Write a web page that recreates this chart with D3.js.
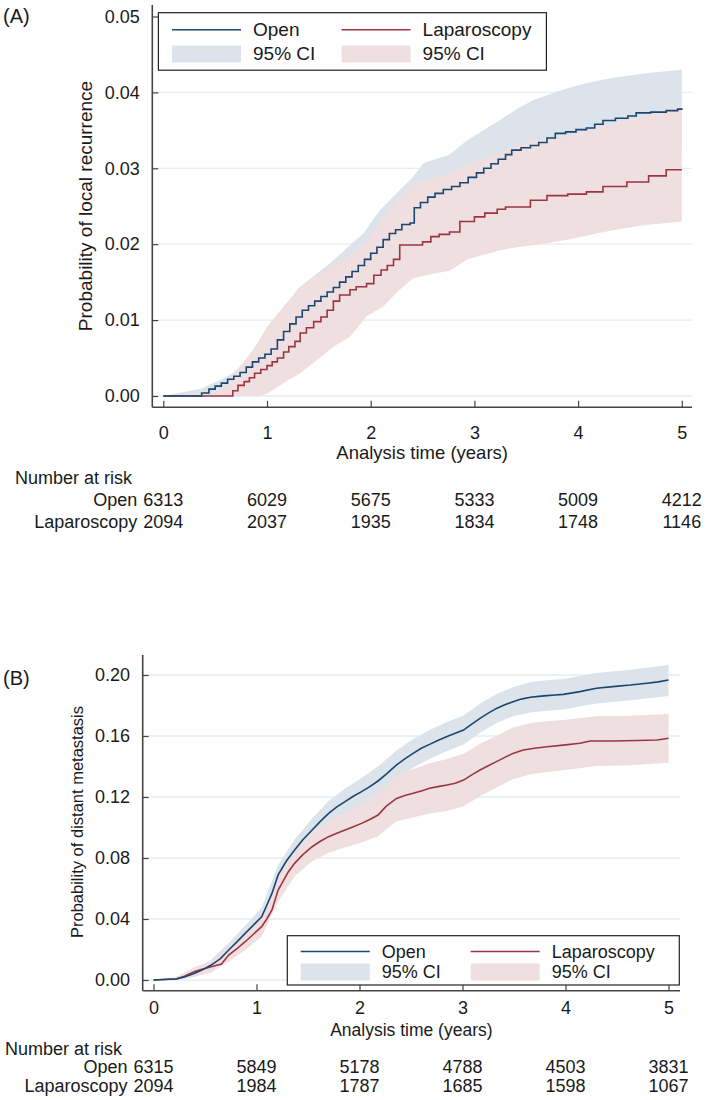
<!DOCTYPE html>
<html><head><meta charset="utf-8">
<script src="https://cdn.jsdelivr.net/npm/d3@7"></script>
<style>
body{margin:0;background:#fff}
svg{display:block}
text{font-family:"Liberation Sans",Arial,Helvetica,sans-serif;fill:#1a1a1a}
</style>
</head><body>
<script>
// ---------------- DATA ----------------
const years = [0, 1, 2, 3, 4, 5];
const seriesNames = ["Open", "Laparoscopy"];
const ciLabel = "95% CI";

// Panel A: local recurrence
const yTicksA = [0, 0.01, 0.02, 0.03, 0.04, 0.05];
const openA_t = [0,0.37,0.44,0.50,0.56,0.62,0.68,0.74,0.80,0.86,0.92,0.98,1.04,1.10,1.16,1.22,1.28,1.34,1.40,1.46,1.52,1.58,1.64,1.70,1.76,1.82,1.88,1.94,2.00,2.06,2.12,2.18,2.24,2.30,2.38,2.42,2.48,2.55,2.62,2.70,2.78,2.86,2.94,3.02,3.09,3.16,3.23,3.30,3.36,3.45,3.54,3.62,3.70,3.78,3.88,3.98,4.08,4.16,4.24,4.36,4.48,4.56,4.70,4.85,4.96,5.0];
const openA_v = [0,0.0004,0.0009,0.0013,0.0017,0.0022,0.0026,0.0031,0.0038,0.0045,0.0050,0.0055,0.0062,0.0074,0.0085,0.0095,0.0104,0.0113,0.0119,0.0125,0.0131,0.0137,0.0143,0.0150,0.0157,0.0164,0.0172,0.0180,0.0188,0.0196,0.0206,0.0214,0.0219,0.0226,0.0228,0.0248,0.0255,0.0262,0.0267,0.0272,0.0276,0.0281,0.0288,0.0294,0.0300,0.0306,0.0312,0.0318,0.0324,0.0327,0.0330,0.0334,0.0340,0.0346,0.0348,0.0351,0.0353,0.0358,0.0363,0.0366,0.0369,0.0373,0.0374,0.0376,0.0378,0.0379];
const openA_ci_t = [0,0.37,0.45,0.55,0.67,0.84,1.0,1.16,1.29,1.45,1.61,1.77,1.93,2.09,2.25,2.41,2.51,2.60,2.76,2.93,3.09,3.25,3.41,3.57,3.73,3.89,4.05,4.21,4.37,4.53,4.70,4.85,5.0];
const openA_hi = [0,0.0010,0.0015,0.0021,0.0030,0.0052,0.0078,0.0105,0.0140,0.0158,0.0175,0.0195,0.0214,0.0245,0.0267,0.0289,0.0307,0.0311,0.0318,0.0337,0.0350,0.0364,0.0378,0.0390,0.0398,0.0405,0.0411,0.0416,0.0420,0.0423,0.0426,0.0428,0.0430];
const openA_lo = [0,0,0.0003,0.0006,0.0012,0.0025,0.0036,0.0060,0.0072,0.0088,0.0105,0.0122,0.0142,0.0160,0.0178,0.0200,0.0206,0.0222,0.0230,0.0241,0.0254,0.0266,0.0275,0.0282,0.0290,0.0294,0.0297,0.0304,0.0310,0.0315,0.0318,0.0320,0.0322];
const lapA_t = [0,0.67,0.72,0.78,0.83,0.88,0.94,1.00,1.05,1.10,1.16,1.21,1.27,1.32,1.38,1.45,1.52,1.58,1.64,1.70,1.80,1.86,1.96,2.03,2.10,2.16,2.22,2.28,2.50,2.58,2.66,2.76,2.86,3.00,3.10,3.22,3.30,3.54,3.70,3.90,4.08,4.24,4.47,4.68,4.85,5.0];
const lapA_v = [0,0.0007,0.0014,0.0019,0.0024,0.0030,0.0035,0.0040,0.0045,0.0050,0.0058,0.0065,0.0072,0.0083,0.0090,0.0098,0.0104,0.0113,0.0125,0.0133,0.0140,0.0144,0.0148,0.0159,0.0166,0.0172,0.0180,0.0199,0.0203,0.0210,0.0213,0.0216,0.0230,0.0236,0.0241,0.0246,0.0249,0.0258,0.0264,0.0266,0.0269,0.0276,0.0282,0.0290,0.0298,0.0298];
const lapA_ci_t = [0,0.50,0.60,0.74,0.86,0.93,1.0,1.16,1.32,1.48,1.64,1.80,1.96,2.12,2.28,2.41,2.57,2.76,2.93,3.09,3.25,3.41,3.57,3.73,3.89,4.05,4.21,4.37,4.53,4.70,4.85,5.0];
const lapA_hi = [0,0.0006,0.0012,0.0039,0.0060,0.0075,0.0091,0.0118,0.0144,0.0160,0.0172,0.0186,0.0205,0.0235,0.0263,0.0280,0.0286,0.0293,0.0305,0.0313,0.0321,0.0330,0.0336,0.0340,0.0342,0.0348,0.0355,0.0360,0.0366,0.0372,0.0378,0.0383];
const lapA_lo = [0,0,0,0,0,0,0.0003,0.0017,0.0030,0.0047,0.0065,0.0078,0.0105,0.0118,0.0140,0.0155,0.0160,0.0165,0.0180,0.0186,0.0192,0.0196,0.0199,0.0202,0.0206,0.0210,0.0215,0.0219,0.0223,0.0226,0.0228,0.0230];
const riskA_open = [6313, 6029, 5675, 5333, 5009, 4212];
const riskA_lap = [2094, 2037, 1935, 1834, 1748, 1146];

// Panel B: distant metastasis
const yTicksB = [0, 0.04, 0.08, 0.12, 0.16, 0.20];
const openB_t = [0,0.10,0.22,0.30,0.40,0.48,0.56,0.65,0.73,0.81,0.89,0.97,1.05,1.10,1.15,1.21,1.29,1.37,1.45,1.54,1.62,1.70,1.78,1.86,1.94,2.02,2.10,2.18,2.26,2.36,2.44,2.52,2.60,2.68,2.76,2.85,2.93,3.01,3.09,3.17,3.25,3.33,3.41,3.49,3.57,3.66,3.74,3.82,3.90,3.98,4.14,4.30,4.46,4.63,4.79,4.90,5.0];
const openB_v = [0,0.0003,0.0007,0.0020,0.0044,0.0068,0.0098,0.0140,0.0197,0.0250,0.0306,0.0360,0.0415,0.0490,0.0568,0.0689,0.0780,0.0852,0.0920,0.0984,0.1040,0.1093,0.1135,0.1170,0.1205,0.1235,0.1268,0.1305,0.1350,0.1410,0.1450,0.1486,0.1520,0.1545,0.1570,0.1596,0.1618,0.1639,0.1678,0.1716,0.1750,0.1781,0.1805,0.1825,0.1842,0.1854,0.1860,0.1865,0.1869,0.1873,0.1891,0.1913,0.1924,0.1934,0.1946,0.1955,0.1967];
const ciB_t = [0,0.22,0.40,0.56,0.73,0.89,1.05,1.21,1.37,1.54,1.70,1.86,2.02,2.18,2.36,2.52,2.68,2.85,3.01,3.17,3.33,3.49,3.66,3.82,3.98,4.30,4.63,5.0];
const openB_lo = [0,0,0.0019,0.0063,0.0152,0.0256,0.0355,0.0624,0.0782,0.0909,0.1013,0.1085,0.1145,0.1210,0.1315,0.1391,0.1450,0.1501,0.1544,0.1621,0.1686,0.1730,0.1754,0.1765,0.1773,0.1813,0.1834,0.1862];
const openB_hi = [0,0.0017,0.0069,0.0133,0.0242,0.0356,0.0475,0.0754,0.0922,0.1059,0.1173,0.1255,0.1325,0.1400,0.1505,0.1581,0.1640,0.1691,0.1734,0.1811,0.1876,0.1920,0.1954,0.1965,0.1973,0.2013,0.2034,0.2065];
const lapB_t = [0,0.10,0.22,0.30,0.40,0.48,0.56,0.66,0.73,0.81,0.89,0.97,1.05,1.10,1.15,1.21,1.31,1.37,1.45,1.54,1.62,1.70,1.78,1.86,1.94,2.02,2.10,2.18,2.26,2.36,2.44,2.52,2.60,2.68,2.76,2.85,2.93,3.01,3.09,3.17,3.25,3.33,3.41,3.49,3.59,3.70,3.82,3.98,4.14,4.24,4.46,4.70,4.89,5.0];
const lapB_v = [0,0.0003,0.0007,0.0025,0.0055,0.0072,0.0087,0.0105,0.0164,0.0205,0.0251,0.0300,0.0350,0.0400,0.0459,0.0590,0.0710,0.0765,0.0822,0.0874,0.0910,0.0940,0.0962,0.0984,0.1005,0.1027,0.1052,0.1082,0.1140,0.1191,0.1210,0.1224,0.1240,0.1257,0.1268,0.1279,0.1290,0.1311,0.1345,0.1377,0.1405,0.1432,0.1460,0.1486,0.1508,0.1520,0.1530,0.1540,0.1552,0.1567,0.1567,0.1570,0.1574,0.1585];
const lapB_lo = [0,0,0.0025,0.0049,0.0119,0.0196,0.0285,0.0515,0.0680,0.0779,0.0835,0.0869,0.0902,0.0942,0.1041,0.1066,0.1092,0.1109,0.1139,0.1205,0.1262,0.1316,0.1350,0.1364,0.1375,0.1404,0.1408,0.1425];
const lapB_hi = [0,0.0019,0.0085,0.0125,0.0209,0.0306,0.0415,0.0665,0.0850,0.0969,0.1045,0.1099,0.1152,0.1222,0.1341,0.1382,0.1422,0.1449,0.1483,0.1549,0.1602,0.1656,0.1686,0.1696,0.1705,0.1730,0.1732,0.1745];
const riskB_open = [6315, 5849, 5178, 4788, 4503, 3831];
const riskB_lap = [2094, 1984, 1787, 1685, 1598, 1067];

// ---------------- STYLE ----------------
const COL = {open: "#1a476f", lap: "#9c3541", openCI: "#dce3eb", lapCI: "#efdfe0",
             grid: "#e6eef0", axis: "#444"};
const W = 709, H = 1100;

const svg = d3.select("body").append("svg").attr("width", W).attr("height", H);

function pts(t, v) { return t.map((d, i) => ({t: d, v: v[i]})); }
function band(t, lo, hi) { return t.map((d, i) => ({t: d, lo: lo[i], hi: hi[i]})); }

function drawPanel(p) {
  const g = svg.append("g");
  const x = d3.scaleLinear().domain([0, 5]).range([p.x0, p.x5]);
  const yMax = p.yTicks[p.yTicks.length - 1];
  const y = d3.scaleLinear().domain([0, yMax]).range([p.y0, p.y0 - yMax * p.ppu]);

  // gridlines
  g.append("g").selectAll("line").data(p.grid).join("line")
    .attr("x1", p.axisX).attr("x2", p.right)
    .attr("y1", d => y(d)).attr("y2", d => y(d))
    .attr("stroke", COL.grid).attr("stroke-width", 1.3);

  // CI bands
  const area = d3.area().curve(d3.curveLinear).x(d => x(d.t)).y0(d => y(d.lo)).y1(d => y(d.hi));
  g.append("path").datum(p.openBand).attr("d", area).attr("fill", COL.openCI);
  g.append("path").datum(p.lapBand).attr("d", area).attr("fill", COL.lapCI);

  // lines
  const line = d3.line().curve(p.curve).x(d => x(d.t)).y(d => y(d.v));
  g.append("path").datum(p.lapLine).attr("d", line).attr("fill", "none")
    .attr("stroke", COL.lap).attr("stroke-width", 1.6);
  g.append("path").datum(p.openLine).attr("d", line).attr("fill", "none")
    .attr("stroke", COL.open).attr("stroke-width", 1.6);

  // y axis
  const ya = g.append("g").attr("transform", `translate(${p.axisX},0)`)
    .call(d3.axisLeft(y).tickValues(p.yTicks).tickFormat(d3.format(".2f"))
      .tickSize(-6).tickSizeOuter(0).tickPadding(p.yPad));
  ya.select(".domain").remove();
  ya.selectAll("line").attr("stroke", COL.axis).attr("stroke-width", 1.2);
  ya.selectAll("text").style("font-size", p.fs + "px").attr("fill", "#1a1a1a")
    .style("font-family", "Liberation Sans, Arial, sans-serif");

  // x axis
  const xa = g.append("g").attr("transform", `translate(0,${p.axisY})`)
    .call(d3.axisBottom(x).tickValues(years).tickFormat(d3.format("d"))
      .tickSize(-6.5).tickSizeOuter(0).tickPadding(p.xPad));
  xa.select(".domain").remove();
  xa.selectAll("line").attr("stroke", COL.axis).attr("stroke-width", 1.2);
  xa.selectAll("text").style("font-size", p.fs + "px").attr("fill", "#1a1a1a")
    .style("font-family", "Liberation Sans, Arial, sans-serif");

  // axis lines
  g.append("line").attr("x1", p.axisX).attr("x2", p.axisX).attr("y1", p.axisTop).attr("y2", p.axisY)
    .attr("stroke", COL.axis).attr("stroke-width", 1.6);
  g.append("line").attr("x1", p.axisX).attr("x2", p.right).attr("y1", p.axisY).attr("y2", p.axisY)
    .attr("stroke", COL.axis).attr("stroke-width", 1.6);

  // titles
  g.append("text").attr("x", (p.axisX + p.right) / 2).attr("y", p.xTitleY)
    .attr("text-anchor", "middle").style("font-size", p.titleFs + "px")
    .text("Analysis time (years)");
  g.append("text").attr("transform", `translate(${p.yTitleX},${p.yTitleY}) rotate(-90)`)
    .attr("text-anchor", "middle").style("font-size", p.yTitleFs + "px")
    .text(p.yTitle);
  g.append("text").attr("x", 3).attr("y", p.tagY).style("font-size", "20px").text(p.tag);

  // legend
  const L = p.legend;
  const lg = g.append("g");
  lg.append("rect").attr("x", L.x).attr("y", L.y).attr("width", L.w).attr("height", L.h)
    .attr("fill", "#fff").attr("stroke", "#222").attr("stroke-width", 1.2);
  const cols = [{name: seriesNames[0], c: COL.open, f: COL.openCI, x: L.c1},
                {name: seriesNames[1], c: COL.lap, f: COL.lapCI, x: L.c2}];
  cols.forEach(cdef => {
    lg.append("line").attr("x1", cdef.x).attr("x2", cdef.x + 69).attr("y1", L.r1).attr("y2", L.r1)
      .attr("stroke", cdef.c).attr("stroke-width", 1.6);
    lg.append("rect").attr("x", cdef.x).attr("y", L.r2 - 8.5).attr("width", 69).attr("height", 17)
      .attr("fill", cdef.f);
    lg.append("text").attr("x", cdef.x + 81).attr("y", L.r1 + 6.4).style("font-size", L.fs + "px").text(cdef.name);
    lg.append("text").attr("x", cdef.x + 81).attr("y", L.r2 + 6.4).style("font-size", L.fs + "px").text(ciLabel);
  });

  // number at risk
  const rg = g.append("g").style("font-size", p.fs + "px");
  rg.append("text").attr("x", p.riskX).attr("y", p.riskY0).text("Number at risk");
  const rows = [{name: seriesNames[0], vals: p.riskOpen, y: p.riskY1},
                {name: seriesNames[1], vals: p.riskLap, y: p.riskY2}];
  rows.forEach(r => {
    rg.append("text").attr("x", x(0) - 26).attr("y", r.y).attr("text-anchor", "end").text(r.name);
    rg.selectAll(null).data(years).join("text")
      .attr("x", d => x(d)).attr("y", r.y).attr("text-anchor", "middle")
      .text((d, i) => r.vals[i]);
  });
}

drawPanel({
  x0: 163.3, x5: 681.8, y0: 396, ppu: 7590, yTicks: yTicksA,
  grid: [0, 0.01, 0.02, 0.03, 0.04],
  axisX: 152.3, axisTop: 5, axisY: 407.3, right: 692,
  curve: d3.curveStepAfter,
  openLine: pts(openA_t, openA_v), lapLine: pts(lapA_t, lapA_v),
  openBand: band(openA_ci_t, openA_lo, openA_hi), lapBand: band(lapA_ci_t, lapA_lo, lapA_hi),
  fs: 18, yPad: 12.5, xPad: 19, titleFs: 18.5, xTitleY: 459,
  yTitle: "Probability of local recurrence", yTitleX: 92, yTitleY: 206, yTitleFs: 19,
  tag: "(A)", tagY: 23,
  legend: {x: 158.4, y: 12.7, w: 388, h: 57.5, c1: 172, c2: 341.6, r1: 29.8, r2: 54, fs: 19},
  riskX: 15, riskY0: 483.5, riskY1: 505.5, riskY2: 528,
  riskOpen: riskA_open, riskLap: riskA_lap
});

drawPanel({
  x0: 153.5, x5: 668.5, y0: 980, ppu: 1525, yTicks: yTicksB,
  grid: [0, 0.04, 0.08, 0.12, 0.16, 0.20],
  axisX: 142.7, axisTop: 655, axisY: 990.7, right: 680,
  curve: d3.curveLinear,
  openLine: pts(openB_t, openB_v), lapLine: pts(lapB_t, lapB_v),
  openBand: band(ciB_t, openB_lo, openB_hi), lapBand: band(ciB_t, lapB_lo, lapB_hi),
  fs: 18, yPad: 12.7, xPad: 10.5, titleFs: 17.5, xTitleY: 1035.5,
  yTitle: "Probability of distant metastasis", yTitleX: 83, yTitleY: 822, yTitleFs: 16.5,
  tag: "(B)", tagY: 685,
  legend: {x: 287.3, y: 935.7, w: 392, h: 49.3, c1: 300.7, c2: 470.7, r1: 951.5, r2: 972, fs: 18},
  riskX: 5, riskY0: 1054.5, riskY1: 1073, riskY2: 1091.5,
  riskOpen: riskB_open, riskLap: riskB_lap
});
</script>
</body></html>
